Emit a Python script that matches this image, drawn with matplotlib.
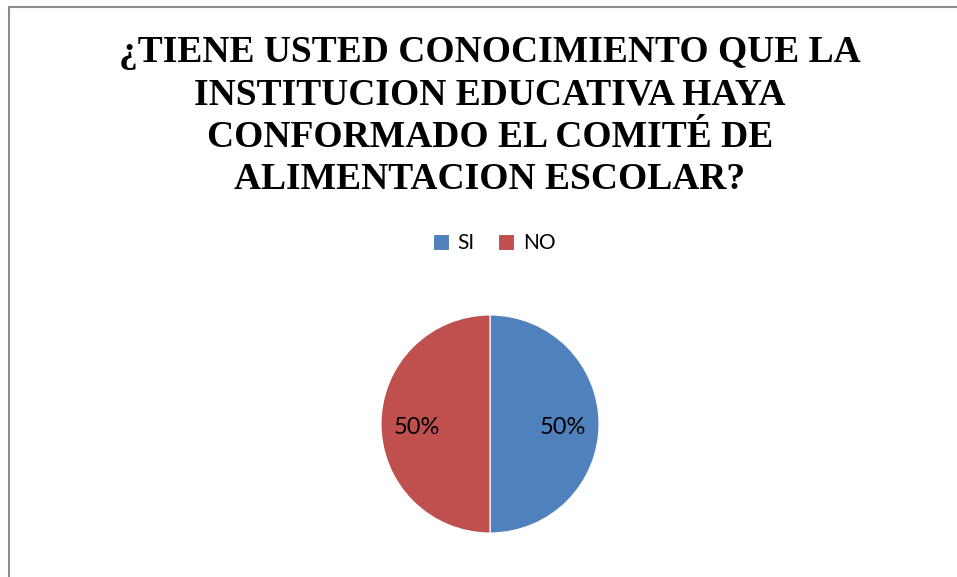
import matplotlib.pyplot as plt
from matplotlib.patches import Rectangle

# data
labels = ['SI', 'NO']
values = [50, 50]
colors = ['#4F81BD', '#C0504D']
title = ('¿TIENE USTED CONOCIMIENTO QUE LA\nINSTITUCION EDUCATIVA HAYA\n'
         'CONFORMADO EL COMITÉ DE\nALIMENTACION ESCOLAR?')

fig = plt.figure(figsize=(9.57, 5.77), dpi=100)
fig.patch.set_facecolor('white')

# chart frame (only left and top edges are visible in the crop)
fig.add_artist(Rectangle((9 / 957, -0.1), 1.1, (577 - 7) / 577 + 0.1,
                         transform=fig.transFigure, fill=False,
                         edgecolor='#8c8c8c', linewidth=1.5))

fig.text(490 / 957, 1 - 116 / 577, title, ha='center', va='center',
         family='Liberation Serif', fontweight='bold', fontsize=27,
         linespacing=1.28)

# pie axes: center (490, 424), radius 109 px
r = 109
ax = fig.add_axes([(490 - r) / 957, 1 - (424 + r) / 577, 2 * r / 957, 2 * r / 577])
wedges, texts, autotexts = ax.pie(values, colors=colors, startangle=90,
                                  counterclock=False, autopct='%1.0f%%',
                                  pctdistance=0.67, radius=1,
                                  wedgeprops=dict(edgecolor='white', linewidth=0.8),
                                  textprops=dict(family='Lato', fontsize=17))
for t in autotexts:
    t.set_y(t.get_position()[1] - 0.03)
ax.set_xlim(-1, 1)
ax.set_ylim(-1, 1)
ax.set_aspect('equal')

leg = fig.legend(wedges, labels, loc='center', bbox_to_anchor=(494 / 957, 1 - 243 / 577),
                 ncol=2, frameon=False, handlelength=0.8, handleheight=0.8,
                 handletextpad=0.4, columnspacing=1.1,
                 prop=dict(family='Lato', size=15))

fig.savefig('out.png', dpi=100)
